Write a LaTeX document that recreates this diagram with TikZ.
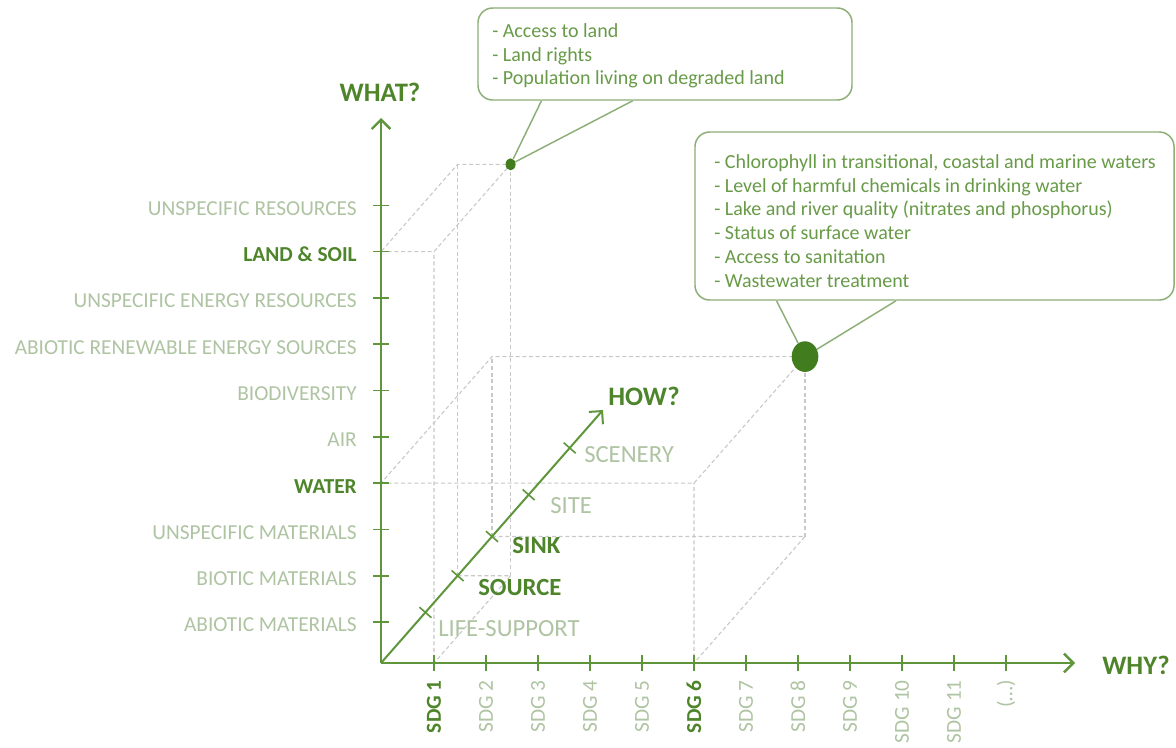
\documentclass[tikz,border=0pt]{standalone}
\usepackage{fontspec}
\setmainfont{Carlito}
\usetikzlibrary{calc,arrows.meta,shapes.geometric}
\definecolor{axisgreen}{RGB}{95,150,60}
\definecolor{darkgreen}{RGB}{78,132,42}
\definecolor{lightlab}{RGB}{175,196,163}
\definecolor{calltext}{RGB}{104,155,72}
\definecolor{callborder}{RGB}{140,175,120}
\definecolor{guide}{RGB}{200,200,200}
\definecolor{dotgreen}{RGB}{65,125,30}
\begin{document}
\begin{tikzpicture}[x=0.75pt,y=-0.75pt,
  axisline/.style={draw=axisgreen,line width=1.8pt},
  axisarrow/.style={axisline,-{Straight Barb[length=7pt,width=14pt]}},
  tickmark/.style={draw=axisgreen,line width=1.2pt},
  guideline/.style={draw=guide,line width=0.8pt,dash pattern=on 3pt off 2pt},
  ylab/.style={anchor=east,font=\fontsize{16}{18}\selectfont,text=lightlab,inner sep=0pt},
  ylabbold/.style={ylab,text=darkgreen,font=\fontsize{16}{18}\selectfont\bfseries},
  sdglab/.style={rotate=90,anchor=east,font=\fontsize{16}{18}\selectfont,text=lightlab,inner sep=0pt},
  sdgbold/.style={sdglab,text=darkgreen,font=\fontsize{16}{18}\selectfont\bfseries},
  howlab/.style={anchor=west,font=\fontsize{18.5}{20}\selectfont,text=lightlab,inner sep=0pt},
  howbold/.style={howlab,text=darkgreen,font=\fontsize{18.5}{20}\selectfont\bfseries},
  axistitle/.style={font=\fontsize{20}{22}\selectfont\bfseries,text=darkgreen,inner sep=0pt},
  callbox/.style={draw=callborder,line width=1.1pt,fill=white,rounded corners=11pt,inner sep=0pt},
  calltxt/.style={anchor=west,align=left,text=calltext,inner sep=0pt},
  dotmark/.style={ellipse,fill=dotgreen,inner sep=0pt},
  tailside/.style={draw=callborder,line width=1.1pt}
]
\fill[white] (0,0) rectangle (1176,747);
\useasboundingbox (0,0) rectangle (1176,747);

% coordinates
\coordinate (O) at (381,663);
\coordinate (ytop) at (381,118);
\coordinate (xend) at (1075,663);
\coordinate (hend) at (603,410);
\foreach \i in {1,...,10} \coordinate (y\i) at (381,{622-46.3*(\i-1)});
\foreach \i in {1,...,12} \coordinate (x\i) at ({434+52*(\i-1)},663);
\foreach \i/\t in {1/0.2,2/0.345,3/0.5,4/0.665,5/0.85} \coordinate (h\i) at ($(O)!\t!(hend)$);

% cube for WATER / SDG 6 / SINK
\coordinate (WS) at ($(y4)+(x6)-(O)$);
\coordinate (WK) at ($(y4)+(h3)-(O)$);
\coordinate (SK) at ($(x6)+(h3)-(O)$);
\coordinate (WSK) at ($(y4)+(x6)+(h3)-(O)-(O)$);
\draw[guideline] (y4) -- (WS) -- (WSK) -- (WK) -- cycle;
\draw[guideline] (h3) -- (SK) -- (x6) -- (WS);
\draw[guideline] (h3) -- (WK);
\draw[guideline] (SK) -- (WSK);

% cube for LAND & SOIL / SDG 1 / SOURCE
\coordinate (LS) at ($(y9)+(x1)-(O)$);
\coordinate (LK) at ($(y9)+(h2)-(O)$);
\coordinate (SoK) at ($(x1)+(h2)-(O)$);
\coordinate (LSK) at ($(y9)+(x1)+(h2)-(O)-(O)$);
\draw[guideline] (y9) -- (LS) -- (LSK) -- (LK) -- cycle;
\draw[guideline] (h2) -- (SoK) -- (x1) -- (LS);
\draw[guideline] (h2) -- (LK);
\draw[guideline] (SoK) -- (LSK);

% axes
\draw[axisarrow] (O) -- (ytop);
\draw[axisarrow] (O) -- (xend);
\draw[axisline,line width=1.5pt,-{Straight Barb[length=7pt,width=14pt]}] (O) -- (hend);
\foreach \i in {1,...,10} \draw[tickmark] ($(y\i)+(-8,0)$) -- ($(y\i)+(8,0)$);
\foreach \i in {1,...,12} \draw[tickmark] ($(x\i)+(0,-8)$) -- ($(x\i)+(0,8)$);
\foreach \i in {1,...,5} \draw[tickmark] ($(h\i)!6pt!90:(hend)$) -- ($(h\i)!6pt!-90:(hend)$);

% axis titles
\node[axistitle] (what) at (380,92) {WHAT?};
\node[axistitle,anchor=west] (why) at (1102,665) {WHY?};
\node[axistitle,anchor=west] (how) at (608,396) {HOW?};

% y labels
\foreach \i/\lab/\st in {1/ABIOTIC MATERIALS/ylab,2/BIOTIC MATERIALS/ylab,3/UNSPECIFIC MATERIALS/ylab,4/WATER/ylabbold,5/AIR/ylab,6/BIODIVERSITY/ylab,7/ABIOTIC RENEWABLE ENERGY SOURCES/ylab,8/UNSPECIFIC ENERGY RESOURCES/ylab,9/LAND \& SOIL/ylabbold,10/UNSPECIFIC RESOURCES/ylab}
  \node[\st] (yl\i) at ($(y\i)+(-24,3)$) {\lab};

% x labels
\foreach \i/\lab/\st in {1/SDG 1/sdgbold,2/SDG 2/sdglab,3/SDG 3/sdglab,4/SDG 4/sdglab,5/SDG 5/sdglab,6/SDG 6/sdgbold,7/SDG 7/sdglab,8/SDG 8/sdglab,9/SDG 9/sdglab,10/SDG 10/sdglab,11/SDG 11/sdglab,12/(\ldots)/sdglab}
  \node[\st] (xl\i) at ($(x\i)+(0,17)$) {\lab};

% how labels
\node[howlab] (hl1) at (438,629) {LIFE-SUPPORT};
\node[howbold] (hl2) at (478,587) {SOURCE};
\node[howbold] (hl3) at (512,545) {SINK};
\node[howlab] (hl4) at (550,506) {SITE};
\node[howlab] (hl5) at (584,455) {SCENERY};

% dots
\node[dotmark,minimum width=7.5pt,minimum height=9pt] (dot2) at (LSK) {};
\node[dotmark,minimum width=20pt,minimum height=23pt] (dot1) at (WSK) {};

% callout 1
\node[callbox,minimum width=280.5pt,minimum height=69pt] (c1) at (665,54) {};
\fill[white] ($(c1.south west)!0.171!(c1.south east)+(0,-1.5)$) -- (dot2) -- ($(c1.south west)!0.414!(c1.south east)+(0,-1.5)$) -- cycle;
\draw[tailside] ($(c1.south west)!0.171!(c1.south east)$) -- (dot2) -- ($(c1.south west)!0.414!(c1.south east)$);
\node[calltxt,font=\fontsize{15}{17.6}\selectfont] (c1t) at (492,56)
  {- Access to land\\- Land rights\\- Population living on degraded land};

% callout 2
\node[callbox,minimum width=359.25pt,minimum height=126pt] (c2) at (934.5,216) {};
\fill[white] ($(c2.south west)!0.171!(c2.south east)+(0,-1.5)$) -- (dot1) -- ($(c2.south west)!0.42!(c2.south east)+(0,-1.5)$) -- cycle;
\draw[tailside] ($(c2.south west)!0.171!(c2.south east)$) -- (dot1) -- ($(c2.south west)!0.42!(c2.south east)$);
\node[calltxt,font=\fontsize{15}{17.85}\selectfont] (c2t) at (714,221)
  {- Chlorophyll in transitional, coastal and marine waters\\- Level of harmful chemicals in drinking water\\- Lake and river quality (nitrates and phosphorus)\\- Status of surface water\\- Access to sanitation\\- Wastewater treatment};
\end{tikzpicture}
\end{document}
